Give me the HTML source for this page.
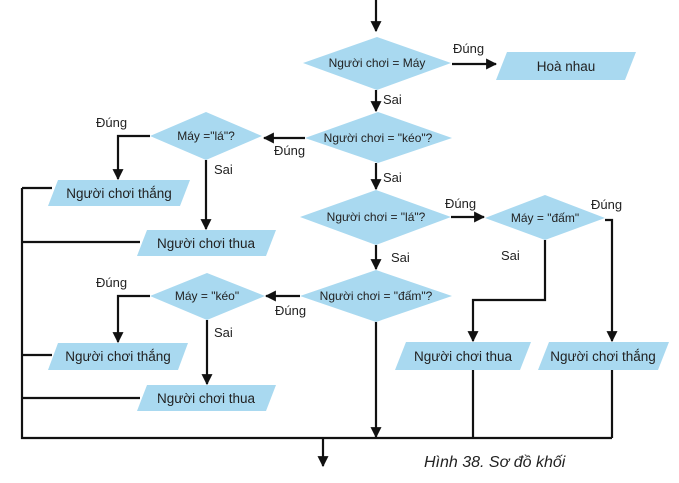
<!DOCTYPE html>
<html><head><meta charset="utf-8"><style>
body{margin:0;background:#fff}
svg text{font-family:"Liberation Sans",sans-serif;fill:#222}
</style></head><body>
<svg width="679" height="478" viewBox="0 0 679 478" xmlns="http://www.w3.org/2000/svg">
<defs><marker id="a" viewBox="0 0 10 10" refX="9" refY="5" markerWidth="5" markerHeight="5" orient="auto"><path d="M0,0L10,5L0,10z" fill="#111"/></marker></defs>
<g fill="#a9d9f0">
<polygon points="377,37 451,63 377,90 303,63"/>
<polygon points="378,112 452,138 378,163 305,138"/>
<polygon points="206,112 262,136 206,160 150,136"/>
<polygon points="376,190 451,217 376,245 300,217"/>
<polygon points="545,195 605,218 545,240 485,218"/>
<polygon points="376,270 452,296 376,322 300,296"/>
<polygon points="207,273 265,296 207,320 150,296"/>
<polygon points="507,52 636,52 625,80 496,80"/>
<polygon points="58,180 190,180 180,206 48,206"/>
<polygon points="147,230 276,230 266,256 137,256"/>
<polygon points="58,343 188,343 178,370 48,370"/>
<polygon points="147,385 276,385 266,411 137,411"/>
<polygon points="406,342 531,342 520,370 395,370"/>
<polygon points="549,342 669,342 658,370 538,370"/>
</g>
<g stroke="#111" stroke-width="2.2" fill="none">
<line x1="376" y1="0" x2="376" y2="31" marker-end="url(#a)"/>
<line x1="452" y1="64" x2="496" y2="64" marker-end="url(#a)"/>
<line x1="376" y1="90" x2="376" y2="111" marker-end="url(#a)"/>
<line x1="305" y1="138" x2="264" y2="138" marker-end="url(#a)"/>
<polyline points="150,136 118,136 118,179" marker-end="url(#a)"/>
<line x1="206" y1="160" x2="206" y2="229" marker-end="url(#a)"/>
<line x1="376" y1="163" x2="376" y2="189" marker-end="url(#a)"/>
<line x1="451" y1="217" x2="484" y2="217" marker-end="url(#a)"/>
<polyline points="605,220 612,220 612,341" marker-end="url(#a)"/>
<polyline points="545,240 545,300 473,300 473,341" marker-end="url(#a)"/>
<line x1="376" y1="245" x2="376" y2="269" marker-end="url(#a)"/>
<line x1="300" y1="296" x2="266" y2="296" marker-end="url(#a)"/>
<polyline points="150,296 118,296 118,342" marker-end="url(#a)"/>
<line x1="207" y1="320" x2="207" y2="384" marker-end="url(#a)"/>
<line x1="376" y1="322" x2="376" y2="437" marker-end="url(#a)"/>
<line x1="473" y1="370" x2="473" y2="438"/>
<line x1="612" y1="370" x2="612" y2="438"/>
<polyline points="22,188 22,438 612,438"/>
<line x1="22" y1="188" x2="52" y2="188"/>
<line x1="22" y1="242" x2="140" y2="242"/>
<line x1="22" y1="355" x2="52" y2="355"/>
<line x1="22" y1="398" x2="140" y2="398"/>
<line x1="323" y1="438" x2="323" y2="466" marker-end="url(#a)"/>
</g>
<g font-size="12" text-anchor="middle">
<text x="377" y="67">Người chơi = Máy</text>
<text x="378" y="142">Người chơi = "kéo"?</text>
<text x="206" y="140">Máy ="lá"?</text>
<text x="376" y="221">Người chơi = "lá"?</text>
<text x="545" y="222">Máy = "đấm"</text>
<text x="376" y="300">Người chơi = "đấm"?</text>
<text x="207" y="300">Máy = "kéo"</text>
</g>
<g font-size="13.5" text-anchor="middle">
<text x="566" y="71">Hoà nhau</text>
<text x="119" y="198">Người chơi thắng</text>
<text x="206" y="248">Người chơi thua</text>
<text x="118" y="361">Người chơi thắng</text>
<text x="206" y="403">Người chơi thua</text>
<text x="463" y="361">Người chơi thua</text>
<text x="603" y="361">Người chơi thắng</text>
</g>
<g font-size="13">
<text x="453" y="53">Đúng</text>
<text x="383" y="104">Sai</text>
<text x="96" y="127">Đúng</text>
<text x="274" y="155">Đúng</text>
<text x="214" y="174">Sai</text>
<text x="383" y="182">Sai</text>
<text x="445" y="208">Đúng</text>
<text x="591" y="209">Đúng</text>
<text x="501" y="260">Sai</text>
<text x="391" y="262">Sai</text>
<text x="96" y="287">Đúng</text>
<text x="275" y="315">Đúng</text>
<text x="214" y="337">Sai</text>
</g>
<text x="424" y="467" font-size="16" font-style="italic" fill="#333">Hình 38. Sơ đồ khối</text>
</svg>
</body></html>
